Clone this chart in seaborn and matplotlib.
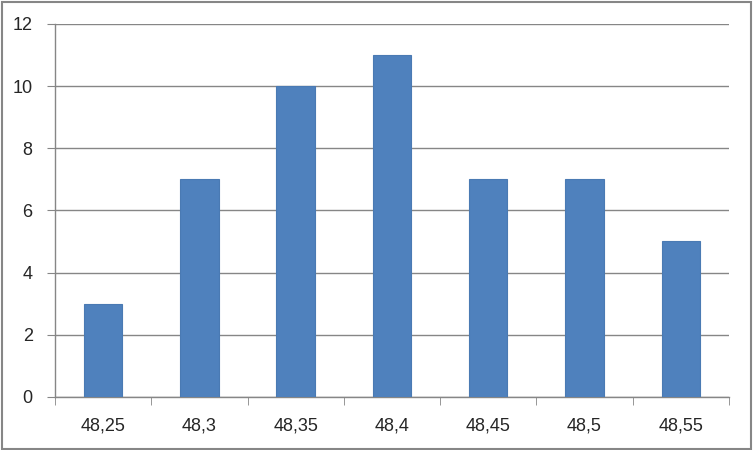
import matplotlib
matplotlib.use("Agg")
import matplotlib.pyplot as plt
import seaborn as sns
import numpy as np
from matplotlib.patches import Rectangle

categories = ["48,25", "48,3", "48,35", "48,4", "48,45", "48,5", "48,55"]
counts = [3, 7, 10, 11, 7, 7, 5]

sns.set_style("white")
plt.rcParams["font.family"] = ["Liberation Sans", "DejaVu Sans"]

fig = plt.figure(figsize=(7.53, 4.5), dpi=100)
ax = fig.add_axes([0.073, 0.118, 0.895, 0.829])

sns.barplot(x=categories, y=counts, color="#4F81BD", width=0.4,
            edgecolor="#4A7AB3", linewidth=0.8, saturation=1, ax=ax, zorder=3)

ax.set_ylim(0, 12)
ax.set_yticks(range(0, 13, 2))
ax.set_xlim(-0.5, len(categories) - 0.5)
ax.yaxis.grid(True, color="#868686", linewidth=1)
ax.set_axisbelow(True)

for s in ["top", "right"]:
    ax.spines[s].set_visible(False)
for s in ["left", "bottom"]:
    ax.spines[s].set_color("#868686")
    ax.spines[s].set_linewidth(1)

ax.tick_params(axis="y", length=6, color="#868686", labelsize=13, pad=10,
               left=True)
ax.tick_params(axis="x", which="major", length=0, labelsize=13, pad=15)
ax.set_xticks(np.arange(-0.5, len(categories)), minor=True)
ax.tick_params(axis="x", which="minor", length=6, color="#868686",
               bottom=True)
ax.set_xlabel("")
ax.set_ylabel("")

fig.patches.append(Rectangle((0.002, 0.003), 0.995, 0.993, transform=fig.transFigure,
                             fill=False, edgecolor="#868686", linewidth=1.5))

fig.savefig("out.png", dpi=100)
